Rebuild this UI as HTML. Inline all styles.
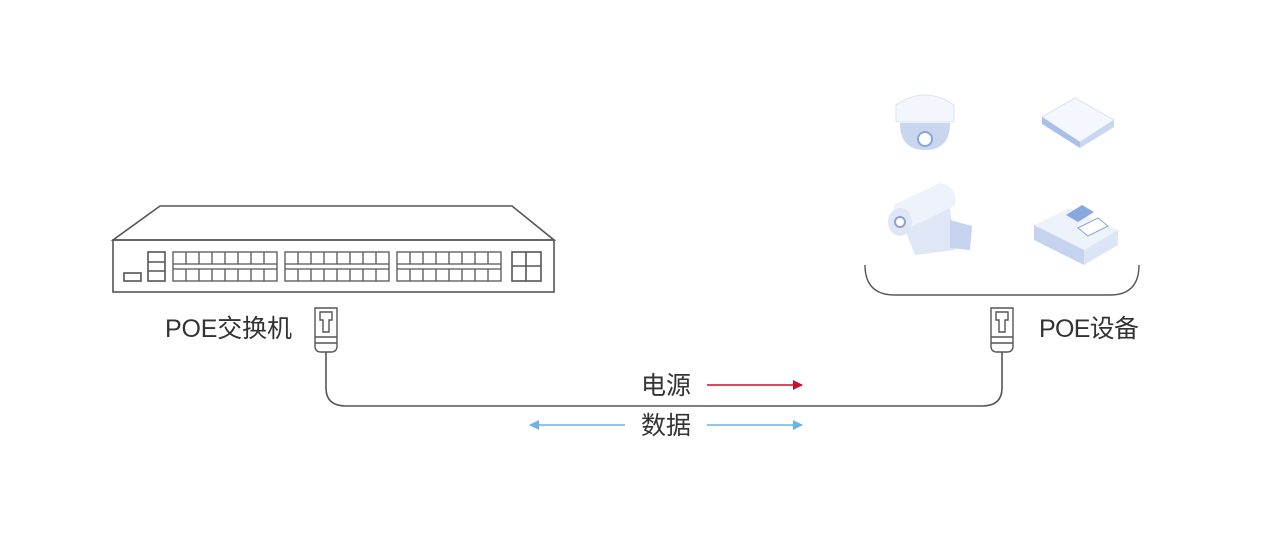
<!DOCTYPE html>
<html><head><meta charset="utf-8"><style>
html,body{margin:0;padding:0;background:#fff;}
svg{display:block;}
text{font-family:"Liberation Sans","Noto Sans CJK SC",sans-serif;fill:#333;}
</style></head><body>
<svg width="1281" height="560" viewBox="0 0 1281 560" xmlns="http://www.w3.org/2000/svg">
<defs>
<marker id="r" markerWidth="10" markerHeight="10" refX="9" refY="5" orient="auto" markerUnits="userSpaceOnUse"><path d="M0,0 L10,5 L0,10 Z" fill="#c8102e"/></marker>
<marker id="b" markerWidth="10" markerHeight="10" refX="9" refY="5" orient="auto-start-reverse" markerUnits="userSpaceOnUse"><path d="M0,0 L10,5 L0,10 Z" fill="#6cb4e6"/></marker>
</defs>
<g fill="none" stroke="#555" stroke-width="1.6">
<path d="M113,240 L160,206 L512,206 L554,240 Z"/>
<rect x="113" y="240" width="441" height="52"/>
<rect x="124" y="273" width="17" height="8"/>
<rect x="148" y="252" width="17" height="29"/>
<path d="M148,262 H165 M148,271 H165"/>
<rect x="512" y="252" width="29" height="29"/>
<path d="M512,266 H541 M526,252 V281"/>
</g>
<g fill="none" stroke="#555" stroke-width="1.3" id="blk">
<rect x="173" y="252" width="104" height="29"/>
<path d="M173,264 H277 M173,269 H277"/>
<path d="M186,252V264M199,252V264M212,252V264M225,252V264M238,252V264M251,252V264M264,252V264M186,269V281M199,269V281M212,269V281M225,269V281M238,269V281M251,269V281M264,269V281"/>
</g>
<use href="#blk" x="112"/>
<use href="#blk" x="224"/>
<g fill="none" stroke="#555" stroke-width="1.4" id="plug">
<path d="M315,308 H337 V346 Q337,352 331,352 H321 Q315,352 315,346 Z"/>
<path d="M315,337 H337 M315,343 H337"/>
<path d="M320,312 H332 V320 H329 V332 H323 V320 H320 Z"/>
</g>
<use href="#plug" x="676"/>
<path d="M326,352 V388 Q326,406 346,406 H982 Q1002,406 1002,388 V352" fill="none" stroke="#555" stroke-width="1.6"/>
<text x="165" y="337" font-size="25" textLength="127">POE交换机</text>
<text x="1039" y="337" font-size="25" textLength="100">POE设备</text>
<text x="641" y="394" font-size="25">电源</text>
<text x="641" y="434" font-size="25">数据</text>
<line x1="707" y1="385" x2="802" y2="385" stroke="#c8102e" stroke-width="1.6" marker-end="url(#r)"/>
<line x1="530" y1="425" x2="625" y2="425" stroke="#6cb4e6" stroke-width="1.6" marker-start="url(#b)"/>
<line x1="707" y1="425" x2="802" y2="425" stroke="#6cb4e6" stroke-width="1.6" marker-end="url(#b)"/>
<path d="M865,265 Q865,295 895,295 H1110 Q1139,295 1139,265" fill="none" stroke="#555" stroke-width="1.4"/>
<path d="M896,105 Q925,85 954,105 V122 H896 Z" fill="#f3f6fc" stroke="#dbe3f2"/>
<path d="M900,123 H950 Q950,150 925,150 Q900,150 900,123 Z" fill="#c9d6f0"/>
<circle cx="925" cy="139" r="7" fill="#fff" stroke="#8aa3d6" stroke-width="2"/>
<path d="M1042,117 L1075,98 L1114,120 L1080,142 Z" fill="#f4f7fd" stroke="#d8e1f3"/>
<path d="M1042,117 L1042,124 L1080,148 L1080,142 Z" fill="#a9bfe8"/>
<path d="M1080,142 L1114,120 L1114,127 L1080,148 Z" fill="#c9d6f0"/>
<path d="M893,205 L940,183 Q958,186 955,205 L910,235 Z" fill="#eef2fb"/>
<path d="M905,230 L950,208 L955,250 L915,255 Z" fill="#dfe7f7"/>
<path d="M950,220 L972,226 L970,250 L950,248 Z" fill="#c5d3ef"/>
<ellipse cx="900" cy="222" rx="12" ry="14" fill="#dfe7f7"/>
<circle cx="900" cy="222" r="5" fill="#fff" stroke="#8aa3d6" stroke-width="2"/>
<path d="M1034,225 L1070,208 L1118,230 L1084,250 Z" fill="#eef2fb"/>
<path d="M1034,225 V240 L1084,265 V250 Z" fill="#c5d3ef"/>
<path d="M1084,250 L1118,230 V245 L1084,265 Z" fill="#dce5f6"/>
<path d="M1066,215 L1082,205 L1094,212 L1078,222 Z" fill="#8aa8dd"/>
<path d="M1078,228 L1098,218 L1108,226 L1088,236 Z" fill="#fff" stroke="#8aa8dd"/>
</svg>
</body></html>
